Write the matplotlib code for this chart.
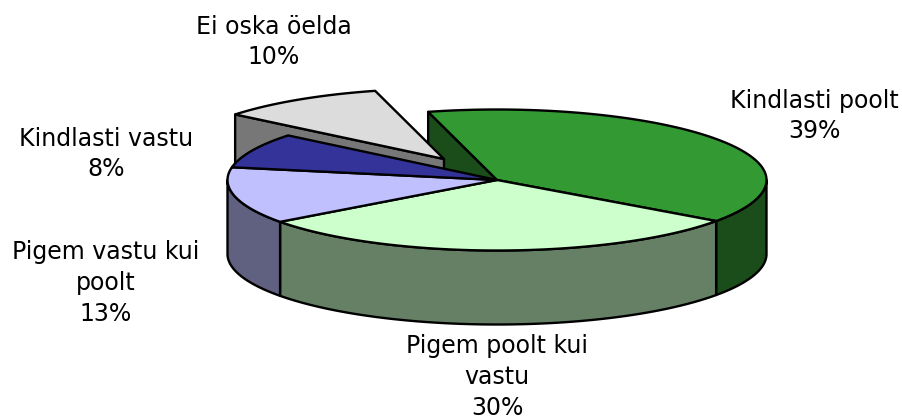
import numpy as np
import matplotlib
matplotlib.use("Agg")
import matplotlib.pyplot as plt
from matplotlib.patches import Polygon

categories = ["Kindlasti poolt", "Pigem poolt kui\nvastu", "Pigem vastu kui\npoolt", "Kindlasti vastu", "Ei oska öelda"]
values = [39, 30, 13, 8, 10]
top_colors = ["#339933", "#ccffcc", "#c0c0ff", "#333399", "#dcdcdc"]
side_colors = ["#1a4d1a", "#668066", "#606080", "#1a1a4d", "#777777"]
label_pos = [(814, 116), (497, 377), (106, 283), (106, 154), (274, 42)]

# ellipse of the pie, in pixels
cx, cy = 497, 180
rx, ry = 269.5, 70.5
depth = 74
start = -14.8
explode = {4: (-53, -21)}

fig = plt.figure(figsize=(9.02, 4.18), dpi=100)
ax = fig.add_axes([0, 0, 1, 1])
ax.set_xlim(0, 902)
ax.set_ylim(418, 0)
ax.axis("off")


def rim(a0, a1, dx=0, dy=0, down=0):
    # angles clockwise from the top of the ellipse
    t = np.radians(np.linspace(a0, a1, 150))
    return np.column_stack([cx + dx + rx * np.sin(t), cy + dy + down - ry * np.cos(t)])


def poly(pts, color, z):
    ax.add_patch(Polygon(pts, closed=True, facecolor=color, edgecolor="black",
                         linewidth=1.7, joinstyle="round", zorder=z))


edges = start + np.cumsum([0] + values) * 3.6

# cut face of the first slice, at the back
a = edges[0]
p = rim(a, a)[0]
poly([p, (cx, cy), (cx, cy + depth), p + (0, depth)], side_colors[0], 1)

# pulled out slice: cut face then top
dx, dy = explode[4]
a = edges[4]
p = rim(a, a, dx, dy)[0]
apex = np.array([cx + dx, cy + dy])
poly([p, apex, apex + (0, depth), p + (0, depth)], side_colors[4], 2)
poly(np.vstack([rim(edges[4], edges[5], dx, dy), apex]), top_colors[4], 3)

# outer walls, only the front half of the ellipse shows
for i in range(4):
    a0 = max(edges[i], 90)
    a1 = min(edges[i + 1], 270)
    if a1 <= a0:
        continue
    poly(np.vstack([rim(a0, a1), rim(a0, a1, down=depth)[::-1]]), side_colors[i], 4)

# top faces
for i in range(4):
    poly(np.vstack([rim(edges[i], edges[i + 1]), (cx, cy)]), top_colors[i], 5)

for name, v, (x, y) in zip(categories, values, label_pos):
    ax.text(x, y, name + "\n" + str(v) + "%", ha="center", va="center", fontsize=17,
            family="DejaVu Sans", color="black", linespacing=1.35, zorder=6)

plt.savefig("out.png", dpi=100)
plt.close()
